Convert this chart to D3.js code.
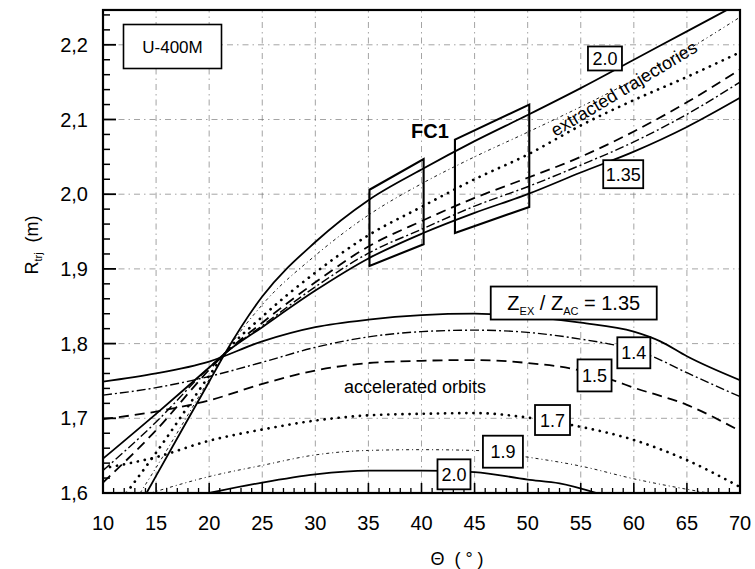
<!DOCTYPE html>
<html><head><meta charset="utf-8">
<script src="https://cdn.jsdelivr.net/npm/d3@7"></script>
<style>
body{margin:0;background:#fff}
svg{display:block}
text{font-family:"Liberation Sans",Arial,Helvetica,sans-serif;fill:#000}
</style>
</head><body>
<svg id="chart" width="755" height="569"></svg>
<script>
// [Θ (deg), R (m)] — accelerated orbits for each Z_EX/Z_AC ratio
const accel135 = [[10,1.749],[15,1.760],[20,1.776],[25,1.803],[30,1.822],[35,1.832],[40,1.838],[45,1.840],[50,1.836],[55,1.828],[60,1.816],[62.5,1.803],[65,1.783],[70,1.751]];
const accel14  = [[10,1.731],[15,1.741],[20,1.756],[25,1.775],[30,1.795],[35,1.809],[40,1.816],[45,1.818],[50,1.815],[55,1.806],[58.5,1.797],[61.7,1.783],[65,1.761],[70,1.729]];
const accel15  = [[10,1.699],[15,1.709],[20,1.724],[25,1.746],[30,1.764],[35,1.774],[40,1.777],[45,1.778],[50,1.774],[54.6,1.765],[58,1.751],[60,1.741],[65,1.718],[70,1.683]];
const accel17  = [[10,1.633],[15,1.648],[20,1.670],[25,1.685],[30,1.697],[35,1.704],[40,1.706],[45,1.707],[50,1.701],[54.5,1.690],[60,1.671],[65,1.644],[70,1.608]];
const accel19  = [[14.5,1.600],[20,1.622],[25,1.637],[30,1.651],[35,1.657],[40,1.658],[45,1.657],[50,1.648],[55,1.636],[60,1.619],[65,1.605],[67,1.600]];
const accel20  = [[20,1.600],[25,1.614],[30,1.625],[35,1.630],[40,1.630],[45,1.628],[50,1.618],[53,1.613],[56.5,1.600]];

// [Θ (deg), R (m)] — extracted trajectories
const extr20  = [[14.1,1.600],[15,1.623],[20,1.749],[21.5,1.787],[25,1.863],[30,1.936],[35,1.992],[40,2.033],[45,2.071],[50,2.106],[55,2.142],[60,2.180],[65,2.218],[70,2.256]];
const extr19  = [[13.5,1.600],[15,1.634],[20,1.752],[21.5,1.787],[25,1.852],[30,1.918],[35,1.972],[40,2.014],[45,2.050],[50,2.083],[55,2.117],[60,2.153],[65,2.193],[70,2.237]];
const extr17  = [[12.2,1.600],[15,1.654],[20,1.757],[21.5,1.787],[25,1.836],[30,1.895],[35,1.945],[40,1.983],[45,2.020],[50,2.053],[55,2.092],[60,2.126],[65,2.157],[70,2.190]];
const extr15  = [[10,1.614],[15,1.684],[20,1.765],[21.5,1.787],[25,1.828],[30,1.882],[35,1.930],[40,1.964],[45,1.995],[50,2.022],[55,2.050],[60,2.084],[65,2.123],[70,2.167]];
const extr14  = [[10,1.630],[15,1.695],[20,1.768],[21.5,1.787],[25,1.824],[30,1.876],[35,1.921],[40,1.953],[45,1.984],[50,2.010],[55,2.039],[60,2.070],[65,2.107],[70,2.150]];
const extr135 = [[10,1.646],[15,1.706],[20,1.768],[21.5,1.787],[25,1.822],[30,1.871],[35,1.914],[40,1.947],[45,1.975],[50,2.000],[55,2.029],[60,2.057],[65,2.090],[70,2.129]];

// FC1 acceptance windows (corner points)
const fc1Left  = [[35.1,2.006],[40.2,2.047],[40.2,1.933],[35.1,1.904]];
const fc1Right = [[43.15,2.073],[50.15,2.120],[50.15,1.983],[43.15,1.948]];

const xTicks = [10,15,20,25,30,35,40,45,50,55,60,65,70];
const yTicks = [1.6,1.7,1.8,1.9,2.0,2.1,2.2];
const yTickLabels = ["1,6","1,7","1,8","1,9","2,0","2,1","2,2"];

const svg = d3.select("#chart");
const x = d3.scaleLinear().domain([10,70]).range([103,740]);
const y = d3.scaleLinear().domain([1.6,2.2]).range([493,44.8]);
const yTop = 2.2466;
const x0 = x(10), x1 = x(70), yB = y(1.6), yT = y(yTop);

// line styles per ratio
const styleOf = {
  "1.35": {dash:null, w:1.8, cap:"butt"},
  "1.4":  {dash:"9,3,2,3", w:1.4, cap:"butt"},
  "1.5":  {dash:"10,6", w:1.8, cap:"butt"},
  "1.7":  {dash:"0.1,7", w:2.7, cap:"round"},
  "1.9":  {dash:"3,3,1,3", w:0.9, cap:"butt"},
  "2.0":  {dash:null, w:1.8, cap:"butt"}
};

svg.append("defs").append("clipPath").attr("id","plot")
  .append("rect").attr("x",x0).attr("y",yT).attr("width",x1-x0).attr("height",yB-yT);

// dash-dot grid at the major ticks
const grid = svg.append("g").attr("stroke","#666").attr("stroke-width",0.6)
  .attr("stroke-dasharray","6,4,1.5,4").attr("fill","none");
xTicks.slice(1,-1).forEach(t=>grid.append("line").attr("x1",x(t)).attr("x2",x(t)).attr("y1",yB).attr("y2",yT));
yTicks.slice(1).forEach(t=>grid.append("line").attr("x1",x0).attr("x2",x1).attr("y1",y(t)).attr("y2",y(t)));

const line = d3.line().x(d=>x(d[0])).y(d=>y(d[1])).curve(d3.curveMonotoneX);
const plot = svg.append("g").attr("clip-path","url(#plot)");

const series = [
  [accel135,"1.35"],[accel14,"1.4"],[accel15,"1.5"],[accel17,"1.7"],[accel19,"1.9"],[accel20,"2.0"],
  [extr135,"1.35"],[extr14,"1.4"],[extr15,"1.5"],[extr17,"1.7"],[extr19,"1.9"],[extr20,"2.0"]
];
series.forEach(([data,key])=>{
  const s = styleOf[key];
  plot.append("path").attr("d",line(data)).attr("fill","none").attr("stroke","#000")
    .attr("stroke-width",s.w).attr("stroke-linecap",s.cap)
    .attr("stroke-dasharray",s.dash);
});

// FC1 windows
const poly = d3.line().x(d=>x(d[0])).y(d=>y(d[1]));
[fc1Left, fc1Right].forEach(p=>{
  plot.append("path").attr("d",poly(p)+"Z").attr("fill","none").attr("stroke","#000").attr("stroke-width",2.1);
});

// axes with inward ticks
const xMinor = d3.range(10,71,1).filter(v=>v%5!==0);
const yMinor = d3.range(1.6,2.2461,0.02).filter(v=>Math.abs(Math.round(v*10)-v*10)>1e-6);
const ax = svg.append("g").attr("stroke","#000");
xTicks.forEach(t=>ax.append("line").attr("x1",x(t)).attr("x2",x(t)).attr("y1",yB).attr("y2",yB-10).attr("stroke-width",1.6));
xMinor.forEach(t=>ax.append("line").attr("x1",x(t)).attr("x2",x(t)).attr("y1",yB).attr("y2",yB-5).attr("stroke-width",1.3));
yTicks.forEach(t=>ax.append("line").attr("x1",x0).attr("x2",x0+13).attr("y1",y(t)).attr("y2",y(t)).attr("stroke-width",1.8));
yMinor.forEach(t=>ax.append("line").attr("x1",x0).attr("x2",x0+7).attr("y1",y(t)).attr("y2",y(t)).attr("stroke-width",1.5));

svg.append("rect").attr("x",x0).attr("y",yT).attr("width",x1-x0).attr("height",yB-yT)
  .attr("fill","none").attr("stroke","#000").attr("stroke-width",2.2);

// tick labels
svg.append("g").selectAll("text").data(xTicks).join("text")
  .attr("x",d=>x(d)).attr("y",530).attr("text-anchor","middle").attr("font-size",20).text(d=>d);
svg.append("g").selectAll("text").data(yTicks).join("text")
  .attr("x",88).attr("y",d=>y(d)+7).attr("text-anchor","end").attr("font-size",20)
  .text((d,i)=>yTickLabels[i]);

// axis titles
svg.append("text").attr("x",457).attr("y",565).attr("text-anchor","middle").attr("font-size",18)
  .attr("xml:space","preserve").text("Θ  ( ° )");
const yt = svg.append("text").attr("transform","translate(38,245) rotate(-90)")
  .attr("text-anchor","middle").attr("font-size",18);
yt.append("tspan").text("R");
yt.append("tspan").attr("font-size",11).attr("dy",4).text("trj");
yt.append("tspan").attr("dy",-4).attr("xml:space","preserve").text("  (m)");

// boxed curve labels
function boxLabel(cx, cy, w, h, txt){
  const g = svg.append("g");
  g.append("rect").attr("x",x(cx)-w/2).attr("y",y(cy)-h/2).attr("width",w).attr("height",h)
    .attr("fill","#fff").attr("stroke","#000").attr("stroke-width",1.8);
  g.append("text").attr("x",x(cx)).attr("y",y(cy)+6.5).attr("text-anchor","middle")
    .attr("font-size",18).text(txt);
}
boxLabel(57.28,2.1817,34,24,"2.0");
boxLabel(59.0,2.0268,40,28,"1.35");
boxLabel(60.0,1.7877,33,31,"1.4");
boxLabel(56.3,1.7574,34,32,"1.5");
boxLabel(52.34,1.6977,35,30,"1.7");
boxLabel(47.67,1.6553,40,32,"1.9");
boxLabel(43.06,1.625,33,30,"2.0");

// ratio box
const zx = x(54.34), zy = y(1.8543);
svg.append("rect").attr("x",zx-83).attr("y",zy-16.5).attr("width",166).attr("height",33)
  .attr("fill","#fff").attr("stroke","#000").attr("stroke-width",1.8);
const zt = svg.append("text").attr("x",zx).attr("y",zy+7).attr("text-anchor","middle").attr("font-size",20);
zt.append("tspan").text("Z");
zt.append("tspan").attr("font-size",11).attr("dy",5).text("EX");
zt.append("tspan").attr("dy",-5).text(" / Z");
zt.append("tspan").attr("font-size",11).attr("dy",5).text("AC");
zt.append("tspan").attr("dy",-5).text(" = 1.35");

// device box
svg.append("rect").attr("x",123.5).attr("y",24.5).attr("width",98).attr("height",44)
  .attr("fill","#fff").attr("stroke","#000").attr("stroke-width",1.6);
svg.append("text").attr("x",172.5).attr("y",53).attr("text-anchor","middle").attr("font-size",17).text("U-400M");

svg.append("text").attr("x",411).attr("y",138).attr("font-size",20).attr("font-weight","bold").text("FC1");
svg.append("text").attr("x",415).attr("y",393).attr("text-anchor","middle").attr("font-size",18).text("accelerated orbits");
svg.append("text").attr("transform","translate(627,94) rotate(-31)").attr("text-anchor","middle")
  .attr("font-size",18).text("extracted trajectories");
</script>
</body></html>
